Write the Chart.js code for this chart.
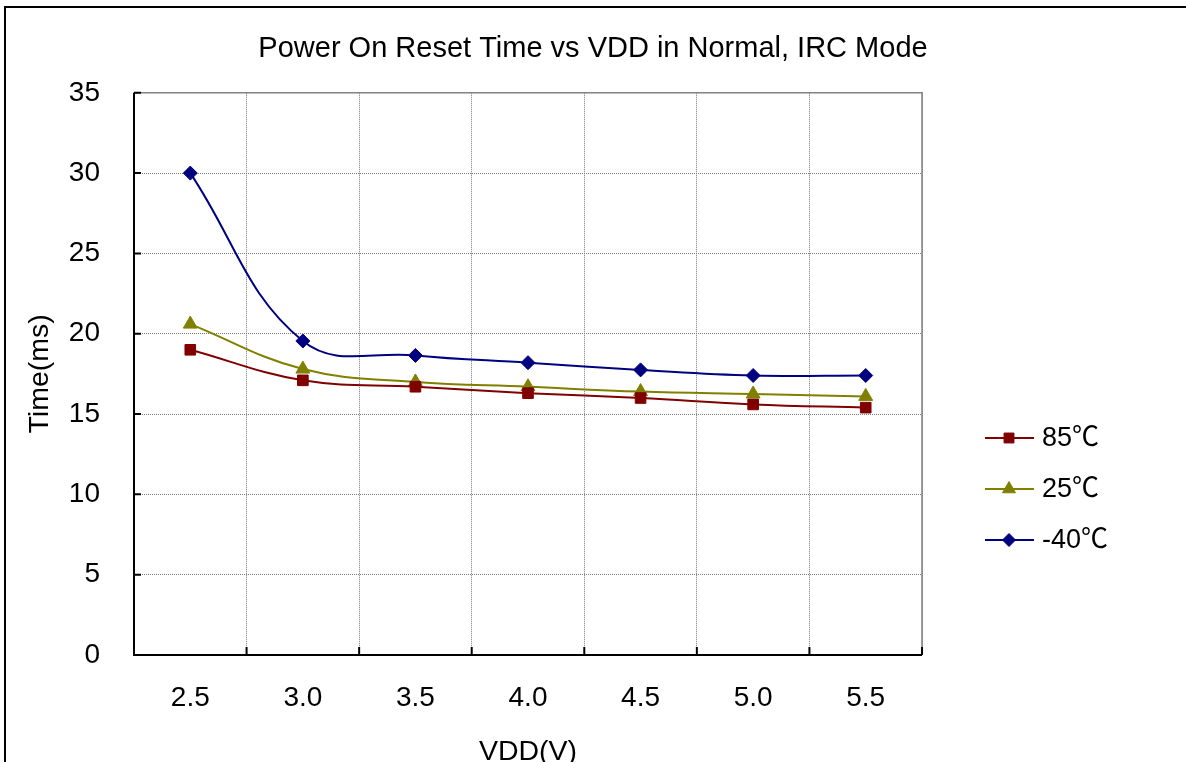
<!DOCTYPE html>
<html>
<head>
<meta charset="utf-8">
<script src="https://cdn.jsdelivr.net/npm/chart.js@4/dist/chart.umd.min.js"></script>
<style>
    body { margin: 0; overflow: hidden; background: #fff; }
    #wrap { position: relative; width: 1186px; height: 762px; overflow: hidden; }
    #frame { position: absolute; left: 4px; top: 6px; width: 2000px; height: 2000px; border: 2px solid #000; pointer-events: none; }
    canvas { position: absolute; left: 0; top: 0; }
</style>
</head>
<body>
<div id="wrap">
    <canvas id="por-chart" width="1186" height="762"></canvas>
    <div id="frame"></div>
</div>
<script>
const vdd = ['2.5', '3.0', '3.5', '4.0', '4.5', '5.0', '5.5'];
const time85 = [19.0, 17.1, 16.7, 16.3, 16.0, 15.6, 15.4];
const time25 = [20.6, 17.8, 17.0, 16.7, 16.4, 16.25, 16.1];
const timeM40 = [30.0, 19.55, 18.65, 18.2, 17.75, 17.4, 17.4];
const seriesNames = ['85\u2103', '25\u2103', '-40\u2103'];

const FONT = 'Arial, "Liberation Sans", "Noto Sans CJK SC", sans-serif';

// axes with inward tick marks + gray top/right frame (Excel look)
const axesPlugin = {
    id: 'excelAxes',
    beforeDatasetsDraw(chart) {
        const {ctx, chartArea: a, scales: {x, y}} = chart;
        ctx.save();
        ctx.strokeStyle = '#808080';
        ctx.lineWidth = 1.5;
        ctx.beginPath();
        ctx.moveTo(a.left, a.top);
        ctx.lineTo(a.right, a.top);
        ctx.lineTo(a.right, a.bottom);
        ctx.stroke();

        ctx.strokeStyle = '#000';
        ctx.lineWidth = 2;
        ctx.beginPath();
        ctx.moveTo(a.left, a.top);
        ctx.lineTo(a.left, a.bottom);
        ctx.lineTo(a.right, a.bottom);
        // y ticks
        y.ticks.forEach(t => {
            const py = y.getPixelForValue(t.value);
            ctx.moveTo(a.left, py);
            ctx.lineTo(a.left + 7, py);
        });
        // x ticks between categories
        const step = x.getPixelForValue(1) - x.getPixelForValue(0);
        for (let i = 0; i < vdd.length; i++) {
            const px = x.getPixelForValue(i) + step / 2;
            ctx.moveTo(px, a.bottom);
            ctx.lineTo(px, a.bottom - 8);
        }
        ctx.stroke();
        ctx.restore();
    }
};

// legend on the right, Excel style
const sideLegend = {
    id: 'sideLegend',
    afterDraw(chart) {
        const ctx = chart.ctx;
        chart.data.datasets.forEach((ds, i) => {
            const y = 438 + i * 51;
            ctx.save();
            ctx.strokeStyle = ds.borderColor;
            ctx.lineWidth = 2;
            ctx.beginPath();
            ctx.moveTo(985, y);
            ctx.lineTo(1034, y);
            ctx.stroke();
            ctx.fillStyle = ds.borderColor;
            ctx.lineWidth = 1;
            Chart.helpers.drawPoint(ctx, {
                pointStyle: ds.pointStyle,
                radius: ds.pointRadius - 0.5,
                rotation: 0,
                borderWidth: 1
            }, 1009, y);
            ctx.fillStyle = '#000';
            ctx.font = '27px ' + FONT;
            ctx.textAlign = 'left';
            ctx.textBaseline = 'middle';
            ctx.fillText(ds.label, 1042, y + 1);
            ctx.restore();
        });
    }
};

const chartData = {
    labels: vdd,
    datasets: [
        {
            label: seriesNames[0],
            data: time85,
            borderColor: '#800000',
            backgroundColor: '#800000',
            pointStyle: 'rect',
            pointRadius: 7.5,
        },
        {
            label: seriesNames[1],
            data: time25,
            borderColor: '#808000',
            backgroundColor: '#808000',
            pointStyle: 'triangle',
            pointRadius: 8,
        },
        {
            label: seriesNames[2],
            data: timeM40,
            borderColor: '#000080',
            backgroundColor: '#000080',
            pointStyle: 'rectRot',
            pointRadius: 7,
        }
    ]
};

const ctx = document.getElementById('por-chart');
const graph = new Chart(ctx, {
    type: 'line',
    data: chartData,
    plugins: [axesPlugin, sideLegend],
    options: {
        responsive: false,
        animation: false,
        devicePixelRatio: 1,
        layout: {
            padding: 0
        },
        elements: {
            line: { borderWidth: 2, tension: 0.4, fill: false },
            point: { borderWidth: 1, hoverRadius: 7 }
        },
        plugins: {
            legend: { display: false },
            tooltip: { enabled: false },
            title: {
                display: true,
                text: 'Power On Reset Time vs VDD in Normal, IRC Mode',
                color: '#000',
                font: { family: FONT, size: 29, weight: 'normal', lineHeight: 1.2 },
                padding: { top: 32, bottom: 26 }
            }
        },
        scales: {
            x: {
                type: 'category',
                offset: true,
                grid: {
                    offset: true,
                    drawTicks: false,
                    color: '#7a7a7a',
                    lineWidth: 1
                },
                border: { display: false, dash: [1, 1] },
                ticks: {
                    color: '#000',
                    padding: 26,
                    font: { family: FONT, size: 28 }
                },
                title: {
                    display: true,
                    text: 'VDD(V)',
                    color: '#000',
                    font: { family: FONT, size: 28.5, lineHeight: 0.8 },
                    padding: { top: 0, bottom: -2 }
                },
                afterFit(scale) { scale.height = 107; }
            },
            y: {
                min: 0,
                max: 35,
                grid: {
                    drawTicks: false,
                    color: '#7a7a7a',
                    lineWidth: 1
                },
                border: { display: false, dash: [1, 1] },
                ticks: {
                    stepSize: 5,
                    color: '#000',
                    padding: 34,
                    font: { family: FONT, size: 28 }
                },
                title: {
                    display: true,
                    text: 'Time(ms)',
                    color: '#000',
                    font: { family: FONT, size: 28.5, lineHeight: 1 },
                    padding: { top: 26, bottom: 0 }
                },
                afterFit(scale) { scale.width = 134; }
            },
            // empty right-hand box that reserves room for the legend
            legendSpace: {
                type: 'linear',
                position: 'right',
                display: true,
                grid: { display: false, drawOnChartArea: false },
                border: { display: false },
                ticks: { display: false },
                afterFit(scale) { scale.width = 264; }
            }
        }
    }
});
</script>
</body>
</html>
